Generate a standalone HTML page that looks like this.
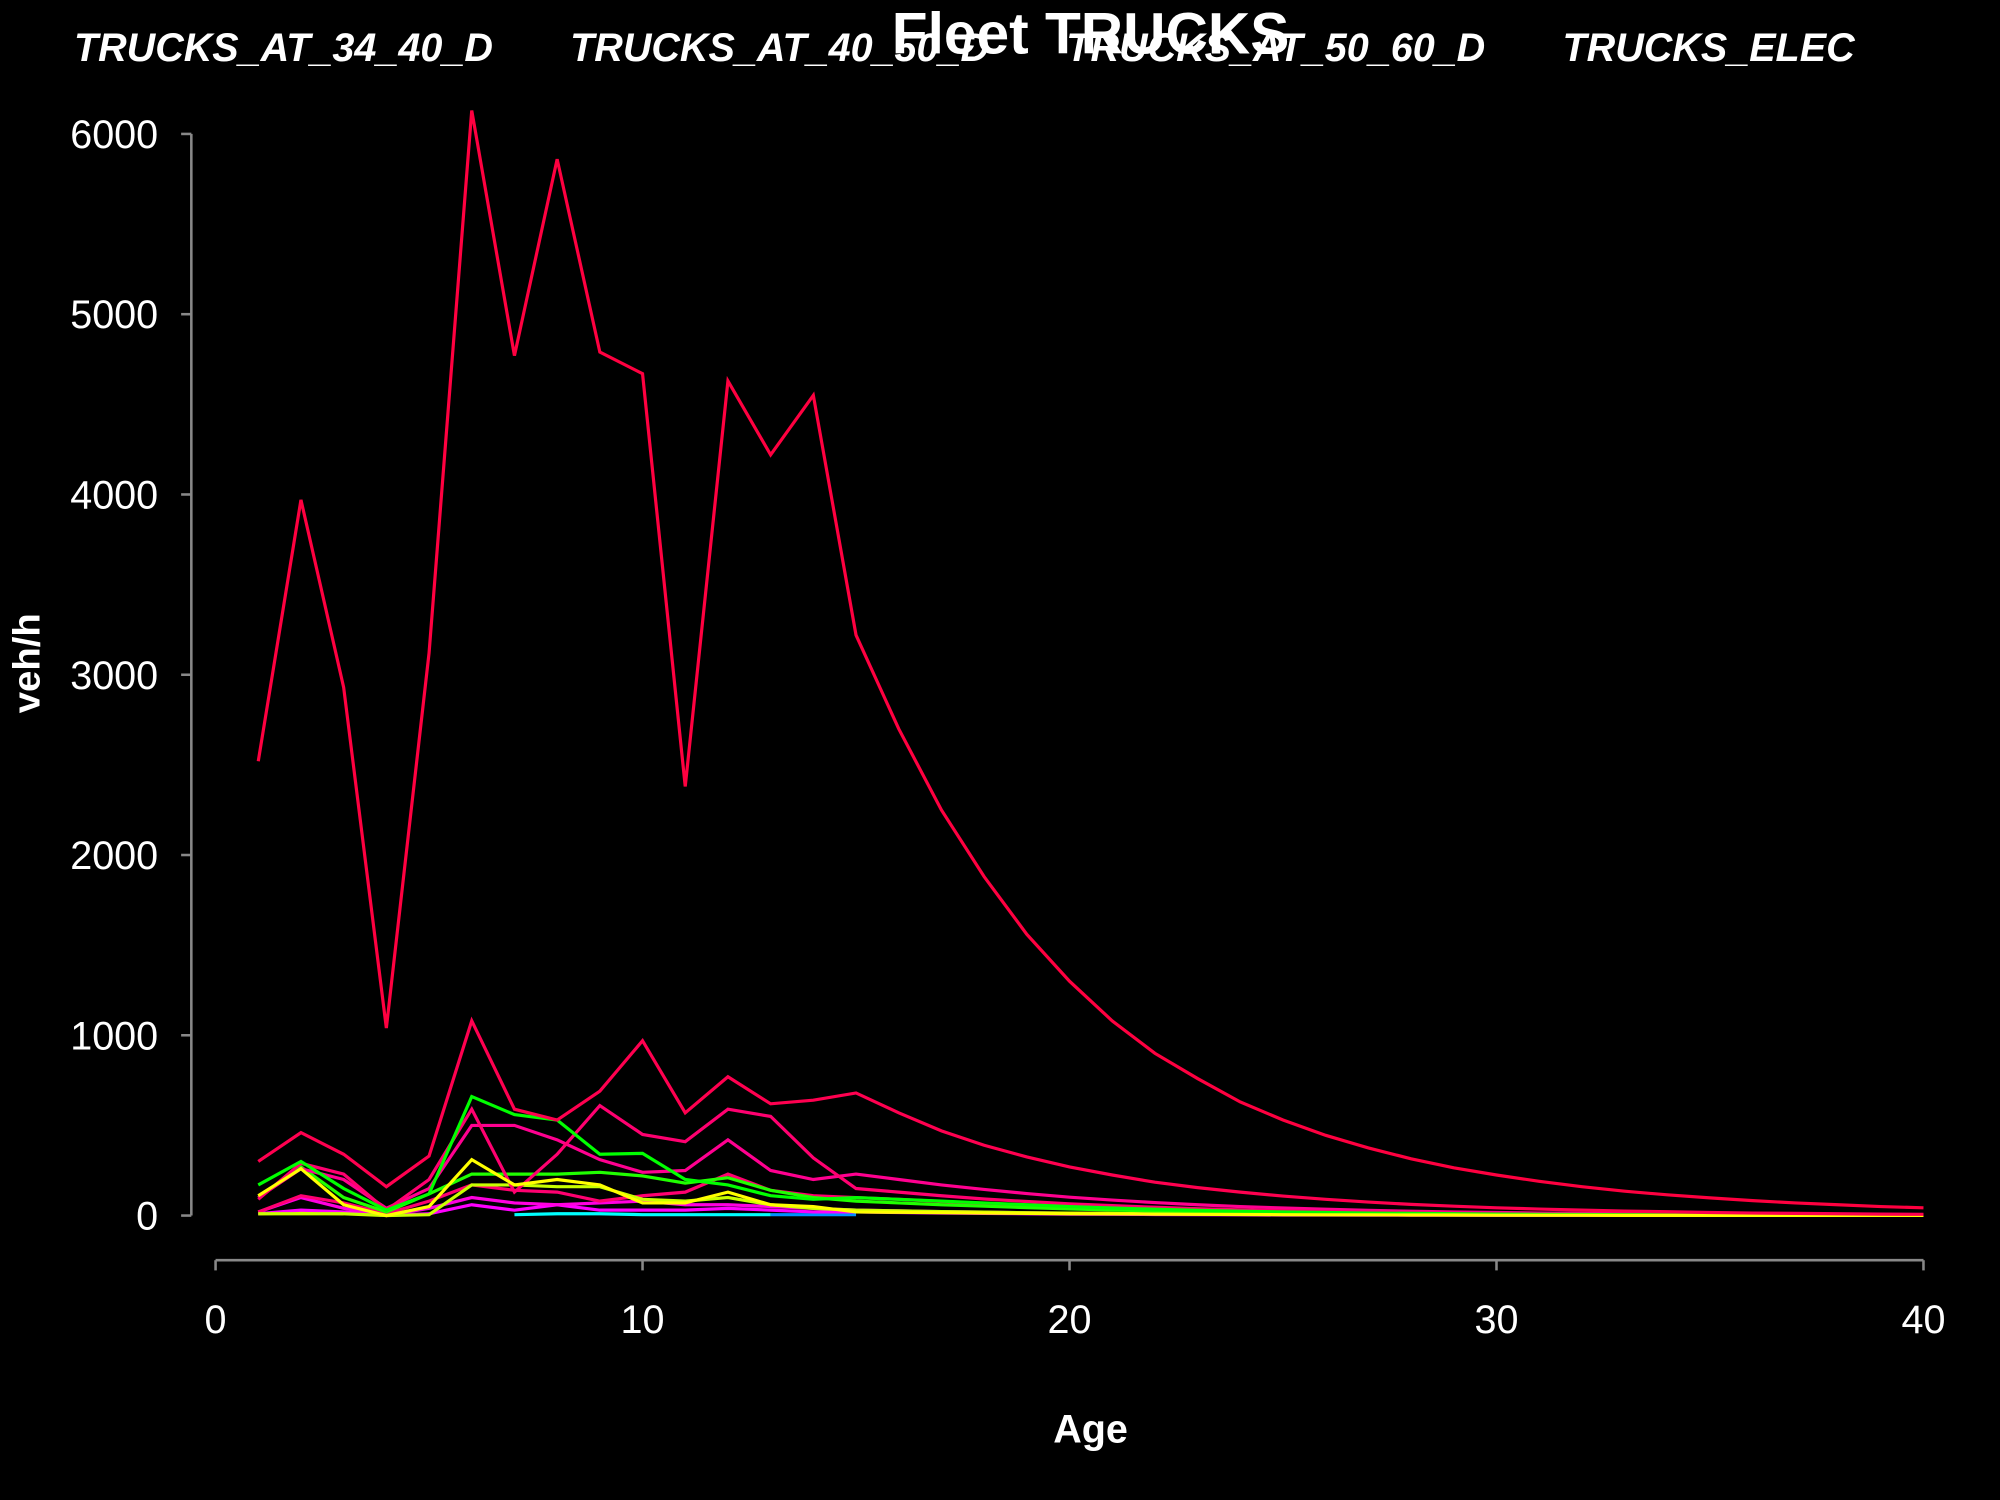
<!DOCTYPE html>
<html><head><meta charset="utf-8"><style>
html,body{margin:0;padding:0;background:#000;width:2000px;height:1500px;overflow:hidden}
text{font-family:"Liberation Sans",sans-serif;fill:#fff}
</style></head><body>
<svg id="chart" width="2000" height="1500" viewBox="0 0 1568 1176" xmlns="http://www.w3.org/2000/svg">
<rect width="1568" height="1176" fill="#000"/>
<text x="855" y="42" text-anchor="middle" font-size="46" font-weight="bold">Fleet TRUCKS</text>
<g font-size="31" font-weight="bold" font-style="italic">
<text x="58" y="48">TRUCKS_AT_34_40_D</text>
<text x="447" y="48">TRUCKS_AT_40_50_D</text>
<text x="836" y="48">TRUCKS_AT_50_60_D</text>
<text x="1225" y="48">TRUCKS_ELEC</text>
</g>
<g id="axes"></g>
<g id="series"></g>
<text x="855" y="1131" text-anchor="middle" font-size="31" font-weight="bold">Age</text>
<text transform="translate(31,520) rotate(-90)" text-anchor="middle" font-size="30" font-weight="bold">veh/h</text>
</svg>
<script>
const xTicks=[0,10,20,30,40];
const yTicks=[0,1000,2000,3000,4000,5000,6000];
const ages=[1,2,3,4,5,6,7,8,9,10,11,12,13,14,15,16,17,18,19,20,21,22,23,24,25,26,27,28,29,30,31,32,33,34,35,36,37,38,39,40];
const seriesMain=[2520,3970,2930,1040,3120,6130,4770,5860,4790,4670,2380,4630,4220,4550,3220,2700,2250,1880,1560,1300,1080,900,760,630,530,445,375,315,265,225,190,160,135,115,98,83,70,60,50,43];
const seriesRed2=[300,460,340,160,330,1080,590,530,690,970,570,770,620,640,680,570,470,390,325,270,225,185,155,130,108,90,75,62,52,43,36,30,25,21,17,14,12,10,8,7];
const seriesPinkA=[90,290,230,30,200,590,130,340,610,450,410,590,550,320,150,130,110,92,78,65,55,46,38,32,27,22,18,15,12,10,8,7,6,5,4,3,3,2,2,2];
const seriesPinkB=[100,260,200,40,150,500,500,420,310,240,250,420,250,200,230,200,170,145,122,102,86,72,60,50,42,35,29,24,20,17,14,12,10,8,7,6,5,4,3,3];
const seriesPinkC=[20,110,70,10,80,170,140,130,80,110,130,230,140,110,100,90,78,66,56,47,40,33,28,23,19,16,13,11,9,8,6,5,4,4,3,3,2,2,2,1];
const seriesGreen=[170,300,150,30,120,660,560,530,340,345,200,170,110,90,100,90,80,70,60,50,42,35,29,24,20,17,14,12,10,8,7,6,5,4,3,3,2,2,2,1];
const seriesGreen2=[100,270,100,20,120,230,230,230,240,220,180,210,140,100,80,70,60,52,44,37,31,26,22,18,15,13,11,9,7,6,5,4,4,3,3,2,2,2,1,1];
const seriesYellow=[110,260,60,0,50,310,170,200,170,70,70,130,60,50,20,18,16,14,12,10,9,8,7,6,5,4,4,3,3,2,2,2,1,1,1,1,1,1,1,1];
const seriesYellowGreen=[10,10,10,0,5,170,170,160,160,90,80,100,60,40,30,26,22,19,16,14,12,10,8,7,6,5,4,4,3,3,2,2,2,1,1,1,1,1,1,1];
const seriesMagenta=[20,100,40,0,40,100,70,60,70,80,60,60,50,40,30,26,22,19,16,13,11,9,8,7,6,5,4,3,3,2,2,2,1,1,1,1,1,1,1,1];
const seriesViolet=[10,30,20,0,10,60,30,60,30,30,30,40,30,20,20,17,14,12,10,8,7,6,5,4,3,3,2,2,2,1,1,1,1,1,1,1,1,1,1,1];
const seriesCyanAges=[7,8,9,10,11,12,13];
const seriesCyan=[5,10,10,5,5,5,5];
const seriesBlueAges=[13,14,15];
const seriesBlue=[5,5,5];
const seriesLowAges=[1,2,3];
const seriesLow=[10,15,10];

const X0=169,X1=1508,Y0=953,Y1=105;
function xs(v){return X0+(v-0)/(40-0)*(X1-X0);}
function ys(v){return Y0-(v/6000)*(Y0-Y1);}
const NS="http://www.w3.org/2000/svg";
const axes=document.getElementById('axes');
function mk(tag,attrs,parent){const e=document.createElementNS(NS,tag);for(const k in attrs)e.setAttribute(k,attrs[k]);parent.appendChild(e);return e;}
let yl=mk('line',{x1:150,y1:ys(0),x2:150,y2:ys(6000),stroke:'#888','stroke-width':2},axes);


yTicks.forEach(t=>{
 const l=mk('line',{x1:142,x2:150,y1:ys(t),y2:ys(t),stroke:'#888','stroke-width':2},axes);
 
 
 const tx=mk('text',{x:124,y:ys(t)+11,'text-anchor':'end','font-size':31},axes);
 tx.textContent=t;
 
 
});
let xl=mk('line',{x1:xs(0),y1:988,x2:xs(40),y2:988,stroke:'#888','stroke-width':2},axes);


xTicks.forEach(t=>{
 const l=mk('line',{x1:xs(t),x2:xs(t),y1:988,y2:996,stroke:'#888','stroke-width':2},axes);
 
 
 const tx=mk('text',{x:xs(t),y:1045,'text-anchor':'middle','font-size':31},axes);
 tx.textContent=t;
 
 
});
const sg=document.getElementById('series');
function draw(xa,ya,color,name){
 const p=mk('polyline',{points:xa.map((a,i)=>xs(a)+','+ys(ya[i])).join(' '),fill:'none',stroke:color,'stroke-width':2.5,'stroke-linejoin':'miter'},sg);
 
 
}
draw(seriesCyanAges,seriesCyan,'#00FFFF','series-cyan');
draw(seriesBlueAges,seriesBlue,'#0090FF','series-blue');
draw(seriesLowAges,seriesLow,'#FFD700','series-gold');
draw(ages,seriesViolet,'#FF00FF','series-violet');
draw(ages,seriesMagenta,'#FF00E0','series-magenta');
draw(ages,seriesPinkC,'#FF0070','series-pink-c');
draw(ages,seriesYellowGreen,'#C8FF00','series-yellow-green');
draw(ages,seriesGreen2,'#20FF00','series-green-2');
draw(ages,seriesPinkB,'#FF0090','series-pink-b');
draw(ages,seriesPinkA,'#FF0070','series-pink-a');
draw(ages,seriesGreen,'#00FF00','series-green');
draw(ages,seriesYellow,'#FFFF00','series-yellow');
draw(ages,seriesRed2,'#FF0050','series-red-2');
draw(ages,seriesMain,'#FF0040','series-main');
</script>
</body></html>
